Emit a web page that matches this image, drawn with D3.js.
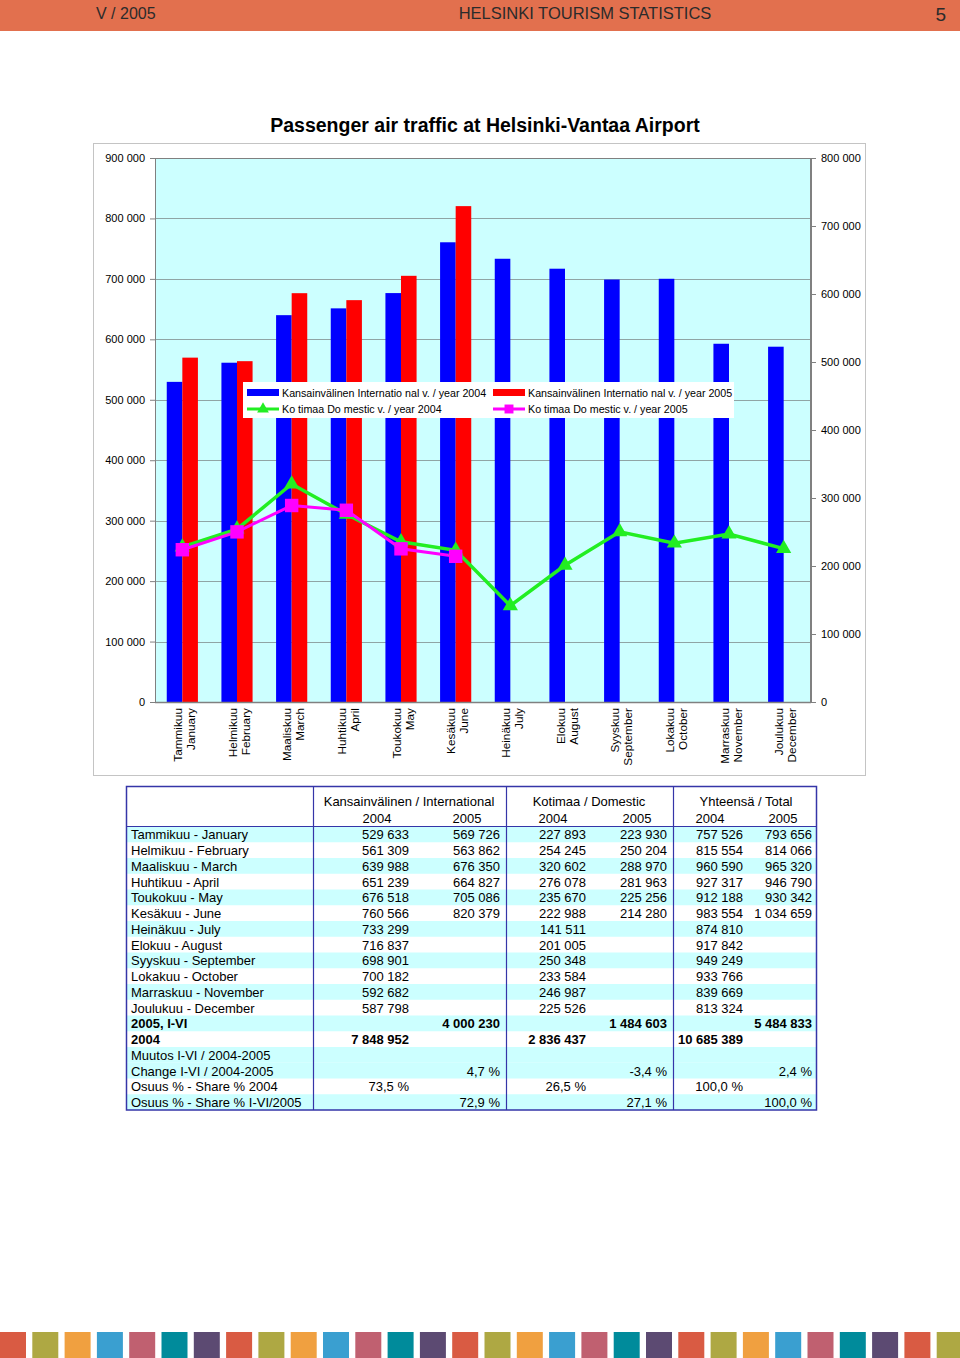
<!DOCTYPE html>
<html><head><meta charset="utf-8">
<script src="https://cdn.jsdelivr.net/npm/d3@7"></script>
<style>body{margin:0;background:#fff}svg{display:block;font-family:"Liberation Sans",Arial,sans-serif}</style>
</head><body>
<script>
const monthsFi = ["Tammikuu","Helmikuu","Maaliskuu","Huhtikuu","Toukokuu","Kesäkuu","Heinäkuu","Elokuu","Syyskuu","Lokakuu","Marraskuu","Joulukuu"];
const monthsEn = ["January","February","March","April","May","June","July","August","September","October","November","December"];
const intl2004 = [529633,561309,639988,651239,676518,760566,733299,716837,698901,700182,592682,587798];
const intl2005 = [569726,563862,676350,664827,705086,820379];
const dom2004 = [227893,254245,320602,276078,235670,222988,141511,201005,250348,233584,246987,225526];
const dom2005 = [223930,250204,288970,281963,225256,214280];
const total2004 = [757526,815554,960590,927317,912188,983554,874810,917842,949249,933766,839669,813324];
const total2005 = [793656,814066,965320,946790,930342,1034659];
const leftTicks = [0,100000,200000,300000,400000,500000,600000,700000,800000,900000];
const rightTicks = [0,100000,200000,300000,400000,500000,600000,700000,800000];
const changePct = ["4,7 %","-3,4 %","2,4 %"];
const share2004 = ["73,5 %","26,5 %","100,0 %"];
const share2005 = ["72,9 %","27,1 %","100,0 %"];
const legendLabels = ["Kansainvälinen Internatio nal v. / year 2004","Kansainvälinen Internatio nal v. / year 2005","Ko timaa Do mestic v. / year 2004","Ko timaa Do mestic v. / year 2005"];
const stripeColors = ["#D95B43","#AEA843","#F0A040","#3A9FD0","#C06070","#008B9B","#5C4A72"];

const fmt = v => d3.format(",")(v).replace(/,/g," ");
const svg = d3.select("body").append("svg").attr("width",960).attr("height",1358);

// header
svg.append("rect").attr("x",0).attr("y",0).attr("width",960).attr("height",31).attr("fill","#E2704E");
svg.append("text").attr("x",96).attr("y",19).attr("font-size",16).attr("fill","#2b2b2b").text("V / 2005");
svg.append("text").attr("x",585).attr("y",19).attr("font-size",16.5).attr("fill","#2b2b2b").attr("text-anchor","middle").text("HELSINKI TOURISM STATISTICS");
svg.append("text").attr("x",946).attr("y",21).attr("font-size",19).attr("fill","#2b2b2b").attr("text-anchor","end").text("5");

// title
svg.append("text").attr("x",485).attr("y",132).attr("font-size",19.5).attr("font-weight","bold").attr("text-anchor","middle").text("Passenger air traffic at Helsinki-Vantaa Airport");

// chart frame
svg.append("rect").attr("x",93.5).attr("y",143.5).attr("width",772).attr("height",632).attr("fill","#fff").attr("stroke","#c4c4c4");

const L=155,R=811,T=158,B=702;
const yL = d3.scaleLinear().domain([0,900000]).range([B,T]);
const yR = d3.scaleLinear().domain([0,800000]).range([B,T]);
const x0 = d3.scaleBand().domain(d3.range(12)).range([L,R]).paddingInner(0.43).paddingOuter(0.215);
const x1 = d3.scaleBand().domain([0,1]).range([0,x0.bandwidth()]);

svg.append("rect").attr("x",L).attr("y",T).attr("width",R-L).attr("height",B-T).attr("fill","#CCFFFF");
svg.append("g").selectAll("line").data(leftTicks.filter(d=>d>0)).join("line")
  .attr("x1",L).attr("x2",R).attr("y1",d=>Math.round(yL(d))+0.5).attr("y2",d=>Math.round(yL(d))+0.5)
  .attr("stroke","#8fa5a5").attr("stroke-width",1);

// bars
const gb = svg.append("g");
gb.selectAll(".b4").data(intl2004).join("rect").attr("x",(d,i)=>x0(i)+x1(0)).attr("y",d=>yL(d)).attr("width",x1.bandwidth()).attr("height",d=>B-yL(d)).attr("fill","#0000FF");
gb.selectAll(".b5").data(intl2005).join("rect").attr("x",(d,i)=>x0(i)+x1(1)).attr("y",d=>yL(d)).attr("width",x1.bandwidth()).attr("height",d=>B-yL(d)).attr("fill","#FF0000");

// plot border
svg.append("rect").attr("x",L+0.5).attr("y",T+0.5).attr("width",R-L-1).attr("height",B-T).attr("fill","none").attr("stroke","#808080");

// axes
const axL = d3.axisLeft(yL).tickValues(leftTicks).tickFormat(fmt).tickSize(5).tickPadding(5);
const gL = svg.append("g").attr("transform",`translate(${L},0)`).call(axL);
const axR = d3.axisRight(yR).tickValues(rightTicks).tickFormat(fmt).tickSize(5).tickPadding(5);
const gR = svg.append("g").attr("transform",`translate(${R},0)`).call(axR);
[gL,gR].forEach(g=>{g.select(".domain").attr("stroke","#808080");g.selectAll(".tick line").attr("stroke","#808080");g.selectAll("text").attr("font-size",11).attr("fill","#000").attr("font-family","Liberation Sans, Arial, sans-serif");});
svg.append("line").attr("x1",L).attr("x2",R).attr("y1",B+0.5).attr("y2",B+0.5).attr("stroke","#808080").attr("stroke-width",1.5);

// x labels
const cx = i => x0(i)+x0.bandwidth()/2;
const xl = svg.append("g").selectAll("g").data(d3.range(12)).join("g").attr("transform",i=>`translate(${cx(i)},708) rotate(-90)`);
xl.append("text").attr("x",0).attr("y",-0.5).attr("text-anchor","end").attr("font-size",11.8).text(i=>monthsFi[i]);
xl.append("text").attr("x",0).attr("y",12.5).attr("text-anchor","end").attr("font-size",11.8).text(i=>monthsEn[i]);

// lines
const line = d3.line().x((d,i)=>cx(i)).y(d=>yR(d));
svg.append("path").datum(dom2004).attr("d",line).attr("fill","none").attr("stroke","#22EE22").attr("stroke-width",3.5);
svg.append("path").datum(dom2005).attr("d",line).attr("fill","none").attr("stroke","#FF00FF").attr("stroke-width",3);
const tri = d3.symbol(d3.symbolTriangle,100), sq = d3.symbol(d3.symbolSquare,180);
svg.append("g").selectAll("path").data(dom2004).join("path").attr("d",tri).attr("transform",(d,i)=>`translate(${cx(i)},${yR(d)})`).attr("fill","#22EE22");
svg.append("g").selectAll("path").data(dom2005).join("path").attr("d",sq).attr("transform",(d,i)=>`translate(${cx(i)},${yR(d)})`).attr("fill","#FF00FF");

// legend
const lg = svg.append("g");
lg.append("rect").attr("x",243).attr("y",382).attr("width",491).attr("height",36).attr("fill","#fff");
const legPos = [[247,393],[493,393],[247,409],[493,409]];
const legCol = ["#0000FF","#FF0000","#22EE22","#FF00FF"];
legendLabels.forEach((t,k)=>{
  const [lx,ly]=legPos[k];
  if(k<2){lg.append("rect").attr("x",lx).attr("y",ly-4).attr("width",32).attr("height",7).attr("fill",legCol[k]);}
  else{
    lg.append("line").attr("x1",lx).attr("x2",lx+32).attr("y1",ly).attr("y2",ly).attr("stroke",legCol[k]).attr("stroke-width",3);
    lg.append("path").attr("d",k===2?d3.symbol(d3.symbolTriangle,60)():d3.symbol(d3.symbolSquare,80)()).attr("transform",`translate(${lx+16},${ly})`).attr("fill",legCol[k]);
  }
  lg.append("text").attr("x",lx+35).attr("y",ly+4).attr("font-size",10.7).text(t);
});

// table
const tb = svg.append("g");
const tL=126.5,tR=816.5,tT=786.5,hdrB=826.5,rowH=15.75;
const rows = [];
monthsFi.forEach((m,i)=>rows.push({label:`${m} - ${monthsEn[i]}`,vals:[fmt(intl2004[i]),i<intl2005.length?fmt(intl2005[i]):"",fmt(dom2004[i]),i<dom2005.length?fmt(dom2005[i]):"",fmt(total2004[i]),i<total2005.length?fmt(total2005[i]):""],bold:false}));
rows.push({label:"2005, I-VI",vals:["",fmt(d3.sum(intl2005)),"",fmt(d3.sum(dom2005)),"",fmt(d3.sum(total2005))],bold:true});
rows.push({label:"2004",vals:[fmt(d3.sum(intl2004)),"",fmt(d3.sum(dom2004)),"",fmt(d3.sum(total2004)),""],bold:true});
rows.push({label:"Muutos I-VI / 2004-2005",vals:["","","","","",""]});
rows.push({label:"Change I-VI / 2004-2005",vals:["",changePct[0],"",changePct[1],"",changePct[2]]});
rows.push({label:"Osuus % - Share % 2004",vals:[share2004[0],"",share2004[1],"",share2004[2],""]});
rows.push({label:"Osuus % - Share % I-VI/2005",vals:["",share2005[0],"",share2005[1],"",share2005[2]]});
const cyanRows = [0,2,4,6,8,10,12,14,15,17];
cyanRows.forEach(r=>tb.append("rect").attr("x",tL).attr("y",hdrB+r*rowH).attr("width",tR-tL).attr("height",rowH).attr("fill","#CCFFFF"));
const rightEdges=[409,500,586,667,743,812];
rows.forEach((r,i)=>{
  const by = hdrB + i*rowH + 12.8;
  tb.append("text").attr("x",131).attr("y",by).attr("font-size",13).attr("font-weight",r.bold?"bold":"normal").text(r.label);
  r.vals.forEach((v,j)=>{ if(v) tb.append("text").attr("x",rightEdges[j]).attr("y",by).attr("text-anchor","end").attr("font-size",13).attr("font-weight",r.bold?"bold":"normal").text(v);});
});
const groupHdr=[["Kansainvälinen / International",409],["Kotimaa / Domestic",589],["Yhteensä / Total",746]];
groupHdr.forEach(([t,x])=>tb.append("text").attr("x",x).attr("y",806).attr("text-anchor","middle").attr("font-size",13).text(t));
const yearHdr=[["2004",377],["2005",467],["2004",553],["2005",637],["2004",710],["2005",783]];
yearHdr.forEach(([t,x])=>tb.append("text").attr("x",x).attr("y",823).attr("text-anchor","middle").attr("font-size",13).text(t));
const tBot = hdrB + rows.length*rowH;
tb.append("rect").attr("x",tL).attr("y",tT).attr("width",tR-tL).attr("height",tBot-tT).attr("fill","none").attr("stroke","#3535A8").attr("stroke-width",1.5);
[313.5,506.5,673.5].forEach(x=>tb.append("line").attr("x1",x).attr("x2",x).attr("y1",tT).attr("y2",tBot).attr("stroke","#3535A8").attr("stroke-width",1.2));
tb.append("line").attr("x1",tL).attr("x2",tR).attr("y1",hdrB).attr("y2",hdrB).attr("stroke","#3535A8").attr("stroke-width",1);

// bottom stripes
svg.append("g").selectAll("rect").data(d3.range(30)).join("rect")
  .attr("x",i=>i*32.3).attr("y",1332).attr("width",26).attr("height",26).attr("fill",i=>stripeColors[i%7]);
</script>
</body></html>
